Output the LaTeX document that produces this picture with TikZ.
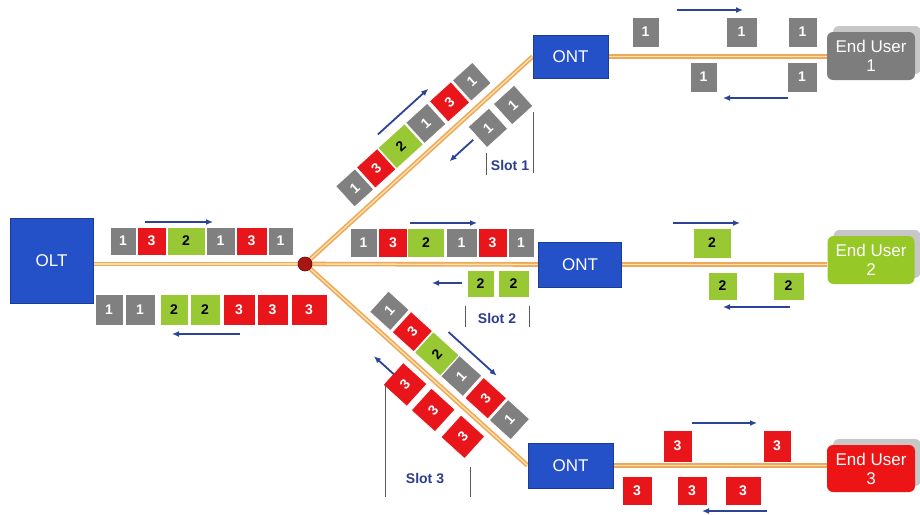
\documentclass[tikz,border=0pt]{standalone}
\usepackage{fontspec}
\setmainfont{Liberation Sans}
\usetikzlibrary{arrows.meta,shadows,backgrounds}
\definecolor{pgray}{RGB}{128,128,128}
\definecolor{pred}{RGB}{232,22,26}
\definecolor{pgreen}{RGB}{152,200,52}
\definecolor{boxblue}{RGB}{36,80,200}
\definecolor{fibero}{RGB}{238,168,92}
\definecolor{fiberc}{RGB}{252,226,168}
\definecolor{arrblue}{RGB}{45,68,150}
\definecolor{slotblue}{RGB}{43,63,140}
\definecolor{eugreen}{RGB}{150,200,40}
\definecolor{eured}{RGB}{236,20,20}
\definecolor{eugray}{RGB}{125,125,125}
\definecolor{splred}{RGB}{170,20,20}
\begin{document}
\begin{tikzpicture}[x=1pt,y=-1pt,
 pk/.style={rectangle, inner sep=0pt, minimum height=28pt, draw=white, line width=0.7pt, font=\bfseries\fontsize{14}{14}\selectfont},
 p1/.style={pk, fill=pgray, text=white},
 p3/.style={pk, fill=pred, text=white},
 p2/.style={pk, fill=pgreen, text=black},
 dev/.style={rectangle, fill=boxblue, draw=boxblue!75!black, line width=0.8pt, text=white, font=\fontsize{17}{17}\selectfont, inner sep=0pt},
 eu/.style={rectangle, rounded corners=6pt, text=white, align=center, inner sep=0pt, font=\fontsize{17}{19}\selectfont, drop shadow={shadow xshift=6pt, shadow yshift=6pt, fill=black!22, opacity=1}},
 fiber/.style={draw=fibero, double=fiberc, line width=1.6pt, double distance=1.4pt},
 arr/.style={draw=arrblue, line width=1.8pt, -{Latex[length=7pt,width=6pt]}},
 slot/.style={font=\bfseries\fontsize{14}{14}\selectfont, text=slotblue, inner sep=0pt},
 bar/.style={draw=black!65, line width=0.9pt}
]
\useasboundingbox (0,0) rectangle (920,514);

% devices
\node[dev, minimum width=83pt, minimum height=85pt] (olt) at (51.5,260.5) {OLT};
\node[dev, minimum width=75pt, minimum height=43pt] (ont1) at (570.5,56.5) {ONT};
\node[dev, minimum width=83pt, minimum height=45pt] (ont2) at (580,264.5) {ONT};
\node[dev, minimum width=85pt, minimum height=45pt] (ont3) at (570.5,465.5) {ONT};
\node[eu, fill=eugray, minimum width=88pt, minimum height=48pt] (eu1) at (871,56) {End User\\1};
\node[eu, fill=eugreen, minimum width=87pt, minimum height=48pt] (eu2) at (871,260) {End User\\2};
\node[eu, fill=eured, minimum width=88pt, minimum height=47pt] (eu3) at (871,468.5) {End User\\3};
\node[circle, fill=splred, draw=splred!60!black, line width=0.6pt, minimum size=14pt, inner sep=0pt] (spl) at (305,264) {};

% fibers
\begin{scope}[on background layer]
\fill[white] (0,0) rectangle (920,514);
\draw[fiber] (olt.east |- spl) -- (spl.center);
\draw[fiber] (spl.center) -- (ont1.west);
\draw[fiber] (spl.center) -- (ont2.west);
\draw[fiber] (spl.center) -- (ont3.west);
\draw[fiber] (ont1.east) -- (ont1.east -| eu1.west);
\draw[fiber] (ont2.east) -- (ont2.east -| eu2.west);
\draw[fiber] (ont3.east) -- (ont3.east -| eu3.west);
\end{scope}

% OLT downstream
\node[p1, minimum width=26pt] (a1) at (123,241) {1};
\node[p3, minimum width=29pt] (a2) at (151.5,241) {3};
\node[p2, minimum width=38pt] (a3) at (186,241) {2};
\node[p1, minimum width=29pt] (a4) at (220.5,241) {1};
\node[p3, minimum width=31pt] (a5) at (251.5,241) {3};
\node[p1, minimum width=25pt] (a6) at (280.5,241) {1};
\draw[arr] (145,222) -- (213,222);
% OLT upstream
\node[p1, minimum width=28pt, minimum height=31pt] (b1) at (109,309.5) {1};
\node[p1, minimum width=30pt, minimum height=31pt] (b2) at (140,309.5) {1};
\node[p2, minimum width=28pt, minimum height=31pt] (b3) at (174,309.5) {2};
\node[p2, minimum width=30pt, minimum height=31pt] (b4) at (205,309.5) {2};
\node[p3, minimum width=32pt, minimum height=31pt] (b5) at (239,309.5) {3};
\node[p3, minimum width=31pt, minimum height=31pt] (b6) at (272.5,309.5) {3};
\node[p3, minimum width=36pt, minimum height=31pt] (b7) at (309,309.5) {3};
\draw[arr] (240,334) -- (172,334);

% middle branch
\node[p1, minimum width=27pt, minimum height=29pt] (c1) at (363.5,242.5) {1};
\node[p3, minimum width=29pt, minimum height=29pt] (c2) at (393,242.5) {3};
\node[p2, minimum width=37pt, minimum height=29pt] (c3) at (426,242.5) {2};
\node[p1, minimum width=31pt, minimum height=29pt] (c4) at (461.5,242.5) {1};
\node[p3, minimum width=29pt, minimum height=29pt] (c5) at (492.5,242.5) {3};
\node[p1, minimum width=26pt, minimum height=29pt] (c6) at (521,242.5) {1};
\draw[arr] (410,223) -- (477,223);
\node[p2, minimum width=27pt, minimum height=27pt] (c7) at (480.5,283.5) {2};
\node[p2, minimum width=31pt, minimum height=27pt] (c8) at (513.5,283.5) {2};
\draw[arr] (462,283) -- (432,283);
\draw[bar] (465,306) -- (465,327);
\draw[bar] (529,306) -- (529,327);
\node[slot] (s2) at (497,318) {Slot 2};

% upper branch
\begin{scope}[shift={(305,264)}, rotate=42.2]
\node[p1, rotate=42.2, minimum width=26pt] (u1) at (88,-23) {1};
\node[p3, rotate=42.2, minimum width=28pt] (u2) at (117,-23) {3};
\node[p2, rotate=42.2, minimum width=36pt] (u3) at (150,-23) {2};
\node[p1, rotate=42.2, minimum width=29pt] (u4) at (184,-23) {1};
\node[p3, rotate=42.2, minimum width=29pt] (u5) at (216,-23) {3};
\node[p1, rotate=42.2, minimum width=27pt] (u6) at (246,-23) {1};
\draw[arr] (141,-47) -- (209,-47);
\node[p1, rotate=42.2, minimum width=28pt] (u7) at (227,22) {1};
\node[p1, rotate=42.2, minimum width=28pt] (u8) at (261,22) {1};
\draw[arr] (208,21) -- (176,21);
\end{scope}
\draw[bar] (486,153) -- (486,175);
\draw[bar] (533,112) -- (533,173);
\node[slot] (s1) at (510,165) {Slot 1};

% lower branch
\begin{scope}[shift={(305,264)}, rotate=-42.2]
\node[p1, rotate=47.8, minimum width=28pt, minimum height=28pt] (l1) at (94,-22) {1};
\node[p3, rotate=47.8, minimum width=28pt, minimum height=29pt] (l2) at (125,-22) {3};
\node[p2, rotate=47.8, minimum width=28pt, minimum height=35pt] (l3) at (158,-22) {2};
\node[p1, rotate=47.8, minimum width=28pt, minimum height=30pt] (l4) at (191,-22) {1};
\node[p3, rotate=47.8, minimum width=28pt, minimum height=31pt] (l5) at (224,-22) {3};
\node[p1, rotate=47.8, minimum width=28pt, minimum height=29pt] (l6) at (256,-22) {1};
\draw[arr] (152,-46) -- (217,-46);
\node[p3, rotate=47.8, minimum width=30pt, minimum height=32pt] (l7) at (155,22) {3};
\node[p3, rotate=47.8, minimum width=30pt, minimum height=32pt] (l8) at (193,22) {3};
\node[p3, rotate=47.8, minimum width=30pt, minimum height=32pt] (l9) at (233,22) {3};
\draw[arr] (140,22) -- (113,22);
\end{scope}
\draw[bar] (385,385) -- (385,497);
\draw[bar] (470,467) -- (470,497);
\node[slot] (s3) at (425,478) {Slot 3};

% right side: user 1
\node[p1, minimum width=27pt, minimum height=30pt] (r1) at (645.5,32) {1};
\node[p1, minimum width=31pt, minimum height=30pt] (r2) at (741.5,32) {1};
\node[p1, minimum width=29pt, minimum height=30pt] (r3) at (802.5,32) {1};
\node[p1, minimum width=27pt, minimum height=30pt] (r4) at (703.5,77) {1};
\node[p1, minimum width=30pt, minimum height=30pt] (r5) at (802,77) {1};
\draw[arr] (677,10) -- (743,10);
\draw[arr] (788,98) -- (723,98);
% user 2
\node[p2, minimum width=38pt, minimum height=30pt] (m1) at (712,243) {2};
\node[p2, minimum width=29pt, minimum height=28pt] (m2) at (722.5,286) {2};
\node[p2, minimum width=31pt, minimum height=28pt] (m3) at (788.5,286) {2};
\draw[arr] (673,223) -- (740,223);
\draw[arr] (790,307) -- (723,307);
% user 3
\node[p3, minimum width=29pt, minimum height=32pt] (n1) at (677.5,446) {3};
\node[p3, minimum width=28pt, minimum height=32pt] (n2) at (777,446) {3};
\node[p3, minimum width=30pt, minimum height=29pt] (n3) at (637,490.5) {3};
\node[p3, minimum width=30pt, minimum height=29pt] (n4) at (692,490.5) {3};
\node[p3, minimum width=36pt, minimum height=29pt] (n5) at (743,490.5) {3};
\draw[arr] (692,423) -- (757,423);
\draw[arr] (767,511) -- (702,511);
\end{tikzpicture}
\end{document}
